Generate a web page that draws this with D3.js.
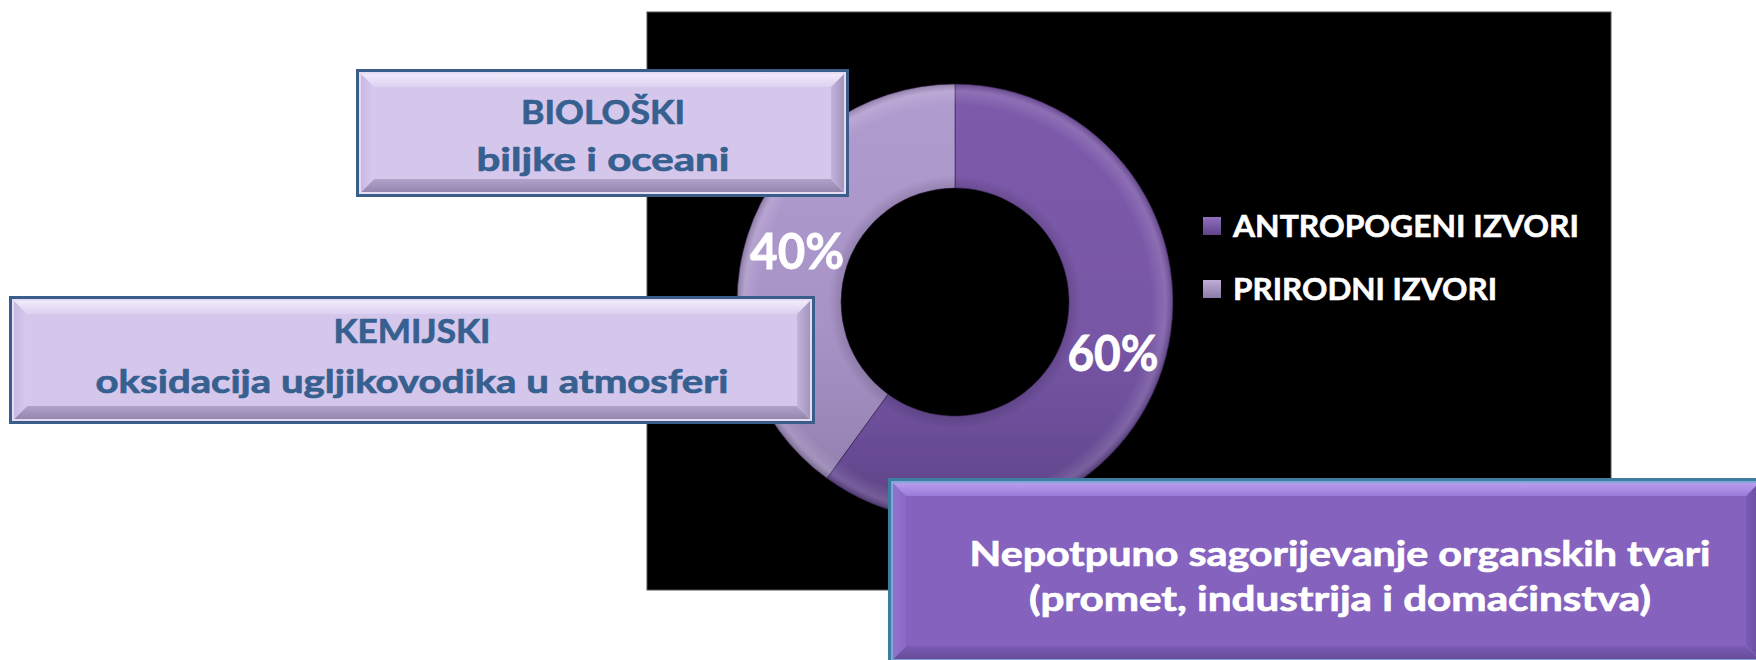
<!DOCTYPE html>
<html>
<head>
<meta charset="utf-8">
<script src="https://cdn.jsdelivr.net/npm/d3@7"></script>
<style>
  html, body { margin: 0; padding: 0; background: #ffffff; }
  svg { display: block; }
  text { font-family: Lato, "Open Sans", "Noto Sans", sans-serif; font-weight: 700; }
</style>
</head>
<body>
<svg id="chart" width="1756" height="660"></svg>
<script>
// Sources of CO in the atmosphere: share of each source group (%)
const categories = ["ANTROPOGENI IZVORI", "PRIRODNI IZVORI"];
const shares = [60, 40];

// Call-out boxes describing the sources
const bioLines = ["BIOLOŠKI", "biljke i oceani"];
const chemLines = ["KEMIJSKI", "oksidacija ugljikovodika u atmosferi"];
const anthroLines = ["Nepotpuno sagorijevanje organskih tvari", "(promet, industrija i domaćinstva)"];

const svg = d3.select("#chart");
const defs = svg.append("defs");

// ---- gradients ----
function linGrad(id, stops, x1, y1, x2, y2, userSpace) {
  const g = defs.append("linearGradient").attr("id", id)
    .attr("x1", x1).attr("y1", y1).attr("x2", x2).attr("y2", y2);
  if (userSpace) g.attr("gradientUnits", "userSpaceOnUse");
  stops.forEach(s => g.append("stop").attr("offset", s[0]).attr("stop-color", s[1]));
  return "url(#" + id + ")";
}

// ---- dark chart panel ----
const panel = { x: 647, y: 12, w: 964, h: 578 };
svg.append("rect")
  .attr("x", panel.x).attr("y", panel.y).attr("width", panel.w).attr("height", panel.h)
  .attr("fill", "#000").attr("stroke", "#555").attr("stroke-width", 1);

// ---- donut (drawn in a group whose origin is the ring centre) ----
const cx = 955, cy = 302, rOuter = 218, rInner = 114;
const sliceFills = [
  linGrad("gAnthro", [[0, "#7d5aab"], [0.55, "#7957a7"], [0.8, "#6b4d98"], [1, "#5c4284"]], 0, -rOuter, 0, rOuter, true),
  linGrad("gNatural", [[0, "#b19ccf"], [0.55, "#a893c7"], [0.8, "#9a87b7"], [1, "#8b79a6"]], 0, -rOuter, 0, rOuter, true)
];
const legendFills = [
  linGrad("lAnthro", [[0, "#9170c0"], [1, "#5f4488"]], 0, 0, 0, 1),
  linGrad("lNatural", [[0, "#c0aed8"], [1, "#8c7aa8"]], 0, 0, 0, 1)
];

// soft highlight along the outer rim of the ring
const rim = defs.append("radialGradient").attr("id", "rim")
  .attr("gradientUnits", "userSpaceOnUse").attr("cx", 0).attr("cy", 0).attr("r", rOuter);
[[0, "rgba(0,0,0,0.12)"], [0.53, "rgba(0,0,0,0.12)"], [0.58, "rgba(0,0,0,0)"],
 [0.9, "rgba(255,255,255,0)"], [0.965, "rgba(255,255,255,0.13)"], [1, "rgba(0,0,0,0.2)"]]
  .forEach(s => rim.append("stop").attr("offset", s[0]).attr("stop-color", s[1]));

const pie = d3.pie().sort(null).value(d => d)(shares);
const arc = d3.arc().innerRadius(rInner).outerRadius(rOuter);
const labelArc = d3.arc().innerRadius((rInner + rOuter) / 2).outerRadius((rInner + rOuter) / 2);

const ring = svg.append("g").attr("transform", `translate(${cx},${cy})`);
ring.selectAll("path.slice").data(pie).join("path")
  .attr("class", "slice")
  .attr("d", arc)
  .attr("fill", (d, i) => sliceFills[i])
  .attr("stroke", "rgba(45,25,70,0.55)").attr("stroke-width", 1);
ring.selectAll("path.rim").data(pie).join("path")
  .attr("class", "rim")
  .attr("d", arc)
  .attr("fill", "url(#rim)");

const pctWidths = [91, 94];
ring.selectAll("text").data(pie).join("text")
  .attr("x", d => labelArc.centroid(d)[0])
  .attr("y", d => labelArc.centroid(d)[1] + 18)
  .attr("text-anchor", "middle")
  .attr("font-size", 49)
  .attr("fill", "#ffffff")
  .attr("stroke", "#ffffff").attr("stroke-width", 0.8)
  .attr("textLength", (d, i) => pctWidths[i])
  .attr("lengthAdjust", "spacingAndGlyphs")
  .text(d => d.data + "%");

// ---- legend ----
const legendY = d3.scaleBand().domain(categories).range([214, 340]).padding(0);
const legendWidths = [346, 264];
const legend = svg.append("g");
legend.selectAll("rect").data(categories).join("rect")
  .attr("x", 1203)
  .attr("y", d => legendY(d) + 3)
  .attr("width", 18).attr("height", 18)
  .attr("fill", (d, i) => legendFills[i]);
legend.selectAll("text").data(categories).join("text")
  .attr("x", 1233)
  .attr("y", d => legendY(d) + 23)
  .attr("font-size", 31)
  .attr("fill", "#ffffff")
  .attr("stroke", "#ffffff").attr("stroke-width", 0.6)
  .attr("textLength", (d, i) => legendWidths[i])
  .attr("lengthAdjust", "spacingAndGlyphs")
  .text(d => d);

// ---- bevelled call-out boxes ----
function bevelBox(b) {
  const g = svg.append("g");
  const { x, y, w, h, bw, edge } = b;
  g.append("rect").attr("x", x).attr("y", y).attr("width", w).attr("height", h).attr("fill", b.border);
  g.append("rect").attr("x", x + 3).attr("y", y + 3).attr("width", w - 6).attr("height", h - 6).attr("fill", b.edgeLine);
  const x1 = x + edge, y1 = y + edge, x2 = x + w - edge, y2 = y + h - edge;
  const poly = pts => pts.map(p => p.join(",")).join(" ");
  g.append("polygon").attr("points", poly([[x1, y1], [x2, y1], [x2 - bw, y1 + bw], [x1 + bw, y1 + bw]])).attr("fill", b.top);
  g.append("polygon").attr("points", poly([[x1, y2], [x2, y2], [x2 - bw, y2 - bw], [x1 + bw, y2 - bw]])).attr("fill", b.bottom);
  g.append("polygon").attr("points", poly([[x1, y1], [x1 + bw, y1 + bw], [x1 + bw, y2 - bw], [x1, y2]])).attr("fill", b.left);
  g.append("polygon").attr("points", poly([[x2, y1], [x2 - bw, y1 + bw], [x2 - bw, y2 - bw], [x2, y2]])).attr("fill", b.right);
  g.append("rect").attr("x", x1 + bw).attr("y", y1 + bw)
    .attr("width", x2 - x1 - 2 * bw).attr("height", y2 - y1 - 2 * bw).attr("fill", b.face);
  b.lines.forEach((t, i) => {
    g.append("text")
      .attr("x", b.tx).attr("y", b.ty[i])
      .attr("text-anchor", "middle")
      .attr("font-size", b.fs)
      .attr("fill", b.color)
      .attr("stroke", b.color).attr("stroke-width", 0.7)
      .attr("textLength", b.tw[i])
      .attr("lengthAdjust", "spacingAndGlyphs")
      .text(t);
  });
}

const lightTop = linGrad("bvTopL", [[0, "#f1ebfb"], [1, "#ddd0f1"]], 0, 0, 0, 1);
const lightBottom = linGrad("bvBotL", [[0, "#b1a2cb"], [1, "#9486ad"]], 0, 0, 0, 1);
const lightLeft = linGrad("bvLeftL", [[0, "#c8b9e2"], [1, "#d6c9ee"]], 0, 0, 1, 0);
const lightRight = linGrad("bvRightL", [[0, "#c3b3dd"], [1, "#a495bd"]], 0, 0, 1, 0);

const lightStyle = {
  border: "#3b5d89", edgeLine: "#e6ddf5", edge: 5, bw: 13,
  top: lightTop, bottom: lightBottom, left: lightLeft, right: lightRight,
  face: "#d5c7ec", color: "#36608f", fs: 33
};

bevelBox(Object.assign({}, lightStyle, {
  x: 356, y: 69, w: 493, h: 128,
  lines: bioLines, tx: 603, ty: [124, 171], tw: [164, 253]
}));

bevelBox(Object.assign({}, lightStyle, {
  x: 9, y: 296, w: 806, h: 128,
  lines: chemLines, tx: 412, ty: [343, 393], tw: [157, 633]
}));

bevelBox({
  x: 888, y: 478, w: 876, h: 186, bw: 13, edge: 5,
  border: "#3d7da0", edgeLine: "#7fa8d8",
  top: linGrad("bvTopD", [[0, "#b99ced"], [1, "#9c7ad8"]], 0, 0, 0, 1),
  bottom: linGrad("bvBotD", [[0, "#7a5ab3"], [1, "#684b99"]], 0, 0, 0, 1),
  left: linGrad("bvLeftD", [[0, "#9272cf"], [1, "#8a68c6"]], 0, 0, 1, 0),
  right: linGrad("bvRightD", [[0, "#7a5cb5"], [1, "#6a4e9e"]], 0, 0, 1, 0),
  face: "#8562bd", color: "#ffffff", fs: 34,
  lines: anthroLines, tx: 1340, ty: [566, 611], tw: [741, 622]
});
</script>
</body>
</html>
